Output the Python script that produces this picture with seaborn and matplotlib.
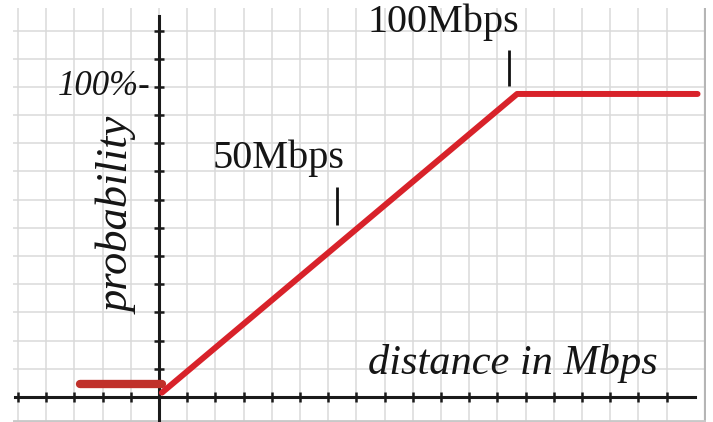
import numpy as np
import pandas as pd
import seaborn as sns
import matplotlib.pyplot as plt

# curve (1 unit = 1 grid square)
ramp_x = [0.1, 12.7, 19.1]
ramp_y = [0.15, 10.75, 10.75]
floor_x = [-2.8, 0.1]
floor_y = [0.45, 0.45]

# speed markers above the curve
mark_names = ["50Mbps", "100Mbps"]
mark_x = [6.3, 12.4]
mark_lo = [6.1, 11.05]
mark_hi = [7.45, 12.3]

x_ticks = list(range(-5, 19))
y_ticks = list(range(1, 14))

sns.set_theme(style="whitegrid")
plt.rcParams["font.family"] = ["Liberation Serif", "DejaVu Serif"]

fig = plt.figure(figsize=(7.13, 4.22), dpi=100)
fig.patch.set_facecolor("white")
# axes covers the graph-paper area
ax = fig.add_axes([13 / 713, 0, (706 - 13) / 713, (422 - 8) / 422])
ax.set_xlim(-5.18, 19.4)
ax.set_ylim(-0.89, 13.8)

ramp = pd.DataFrame({"x": ramp_x, "y": ramp_y})
floor = pd.DataFrame({"x": floor_x, "y": floor_y})
sns.lineplot(data=floor, x="x", y="y", ax=ax, color="#c0302a", lw=6.0,
             solid_capstyle="round", zorder=4, sort=False)
sns.lineplot(data=ramp, x="x", y="y", ax=ax, color="#d8222a", lw=4.3,
             solid_capstyle="round", zorder=5, sort=False)

ax.vlines(mark_x, mark_lo, mark_hi, color="#111111", lw=2, zorder=6)

# graph paper
ax.grid(True, color="#dadada", lw=1.1)
ax.set_xticks(x_ticks)
ax.set_yticks(y_ticks)
ax.set_xticklabels([])
ax.set_yticklabels([])
ax.tick_params(axis="both", bottom=True, left=True, direction="inout",
               length=7, width=1.8, color="#1a1a1a", pad=0)
ax.set_facecolor("white")

for side in ["top", "right"]:
    ax.spines[side].set_visible(False)
ax.spines["left"].set_position(("data", 0))
ax.spines["bottom"].set_position(("data", 0))
ax.spines["left"].set_color("#1a1a1a")
ax.spines["bottom"].set_color("#1a1a1a")
ax.spines["left"].set_linewidth(2.2)
ax.spines["bottom"].set_linewidth(2.2)
ax.spines["left"].set_bounds(-0.89, 13.5)
ax.spines["bottom"].set_bounds(-5.1, 19.0)

ax.set_xlabel("")
ax.set_ylabel("")

# labels
ax.text(-0.3, 10.72, "100%-", fontsize=25, style="italic", ha="right",
        va="baseline", color="#151515")
ax.text(-1.45, 6.43, "probability", fontsize=32, style="italic", rotation=90,
        ha="center", va="center", color="#151515")
ax.text(1.91, 8.12, mark_names[0], fontsize=29, ha="left", va="baseline",
        color="#151515")
ax.text(7.41, 12.94, mark_names[1], fontsize=29, ha="left", va="baseline",
        color="#151515")
ax.text(7.41, 0.82, "distance in Mbps", fontsize=30.5, style="italic",
        ha="left", va="baseline", color="#151515")

# scanned-page edge
ax.axvline(19.4, color="#b5b5b5", lw=3)
ax.axhline(-0.86, color="#c8c8c8", lw=2)

fig.savefig("out.png", dpi=100, facecolor="white")
